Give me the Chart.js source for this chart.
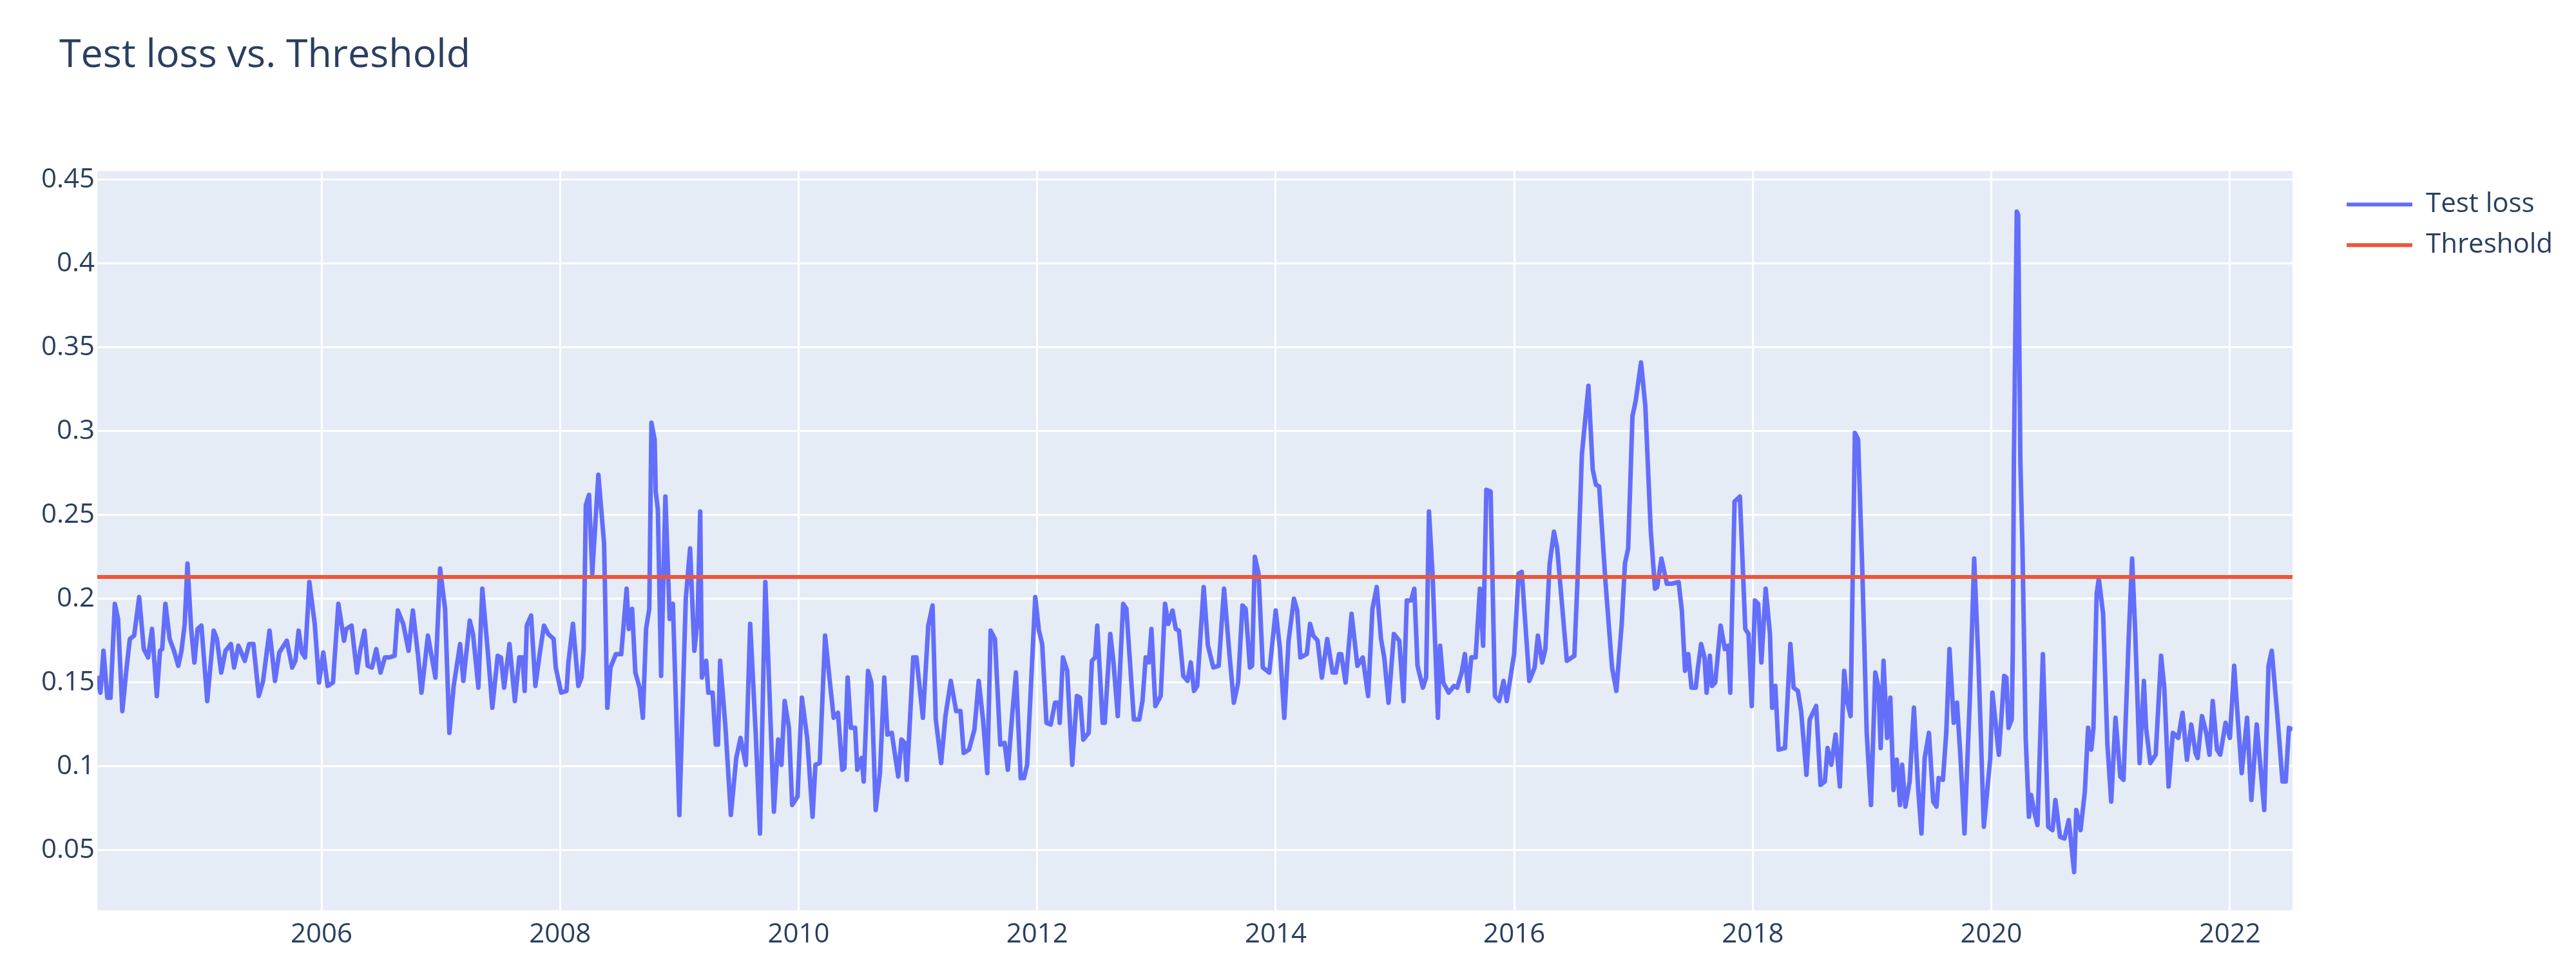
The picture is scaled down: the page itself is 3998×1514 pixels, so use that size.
<!DOCTYPE html>
<html>
<head>
<meta charset="utf-8">
<title>Test loss vs. Threshold</title>
<script src="https://cdn.jsdelivr.net/npm/chart.js@4.4.1/dist/chart.umd.min.js"></script>
<style>
  html, body { margin: 0; padding: 0; background: #ffffff; }
  #lossChart { display: block; }
</style>
</head>
<body>
<canvas id="lossChart" width="3998" height="1514"></canvas>
<script>
// decimal years of each test window
const years = [
  2004.120, 2004.146, 2004.172, 2004.204, 2004.231, 2004.267, 2004.294, 2004.330, 2004.366, 2004.393,
  2004.429, 2004.471, 2004.510, 2004.546, 2004.579, 2004.619, 2004.646, 2004.664, 2004.691, 2004.727,
  2004.763, 2004.799, 2004.826, 2004.853, 2004.876, 2004.907, 2004.934, 2004.961, 2004.993, 2005.042,
  2005.096, 2005.123, 2005.159, 2005.195, 2005.240, 2005.267, 2005.303, 2005.357, 2005.393, 2005.429,
  2005.474, 2005.510, 2005.564, 2005.610, 2005.646, 2005.709, 2005.754, 2005.781, 2005.808, 2005.835,
  2005.862, 2005.898, 2005.943, 2005.979, 2006.015, 2006.051, 2006.096, 2006.141,
  2006.189, 2006.207, 2006.252, 2006.297, 2006.324, 2006.360, 2006.387, 2006.423, 2006.459, 2006.495,
  2006.531, 2006.567, 2006.613, 2006.640, 2006.685, 2006.730, 2006.766, 2006.811, 2006.838, 2006.892,
  2006.955, 2006.994, 2007.036, 2007.072, 2007.108, 2007.162, 2007.189, 2007.243, 2007.270, 2007.315,
  2007.348, 2007.396, 2007.432, 2007.477, 2007.504, 2007.531, 2007.576, 2007.621, 2007.658, 2007.685,
  2007.703, 2007.721, 2007.757, 2007.793, 2007.829, 2007.865, 2007.901, 2007.946, 2007.964, 2008.009,
  2008.054, 2008.070, 2008.108,
  2008.153, 2008.180, 2008.198, 2008.216, 2008.243, 2008.270, 2008.321, 2008.369, 2008.396, 2008.423,
  2008.468, 2008.513, 2008.558, 2008.576, 2008.604, 2008.631, 2008.667, 2008.694, 2008.721, 2008.748,
  2008.766, 2008.793, 2008.802, 2008.820, 2008.847, 2008.883, 2008.919, 2008.946, 2009.000, 2009.054,
  2009.090, 2009.126, 2009.153, 2009.175, 2009.189, 2009.225, 2009.243, 2009.279, 2009.306, 2009.324,
  2009.342, 2009.387, 2009.432, 2009.477, 2009.513, 2009.558, 2009.594, 2009.640, 2009.676, 2009.721,
  2009.793, 2009.829, 2009.856, 2009.883, 2009.919, 2009.946, 2009.991, 2010.027, 2010.072, 2010.117,
  2010.141, 2010.177, 2010.222, 2010.267, 2010.294, 2010.330, 2010.366, 2010.384, 2010.411, 2010.438,
  2010.474, 2010.492, 2010.528, 2010.546, 2010.582, 2010.610, 2010.646, 2010.682, 2010.718, 2010.745,
  2010.781, 2010.835, 2010.862, 2010.889, 2010.907, 2010.961, 2010.988, 2011.042, 2011.087, 2011.123,
  2011.150, 2011.195, 2011.231, 2011.276, 2011.321, 2011.357, 2011.384, 2011.429, 2011.474, 2011.510,
  2011.546, 2011.582, 2011.610, 2011.646, 2011.691, 2011.727, 2011.754, 2011.790, 2011.822, 2011.862,
  2011.889, 2011.916, 2011.984, 2012.015, 2012.042, 2012.078, 2012.114, 2012.150,
  2012.180, 2012.189, 2012.216, 2012.252, 2012.294, 2012.333, 2012.360, 2012.387, 2012.432, 2012.459,
  2012.486, 2012.504, 2012.549, 2012.567, 2012.613, 2012.640, 2012.676, 2012.721, 2012.748, 2012.811,
  2012.856, 2012.883, 2012.910, 2012.937, 2012.958, 2012.991, 2013.036, 2013.072, 2013.099, 2013.135,
  2013.162, 2013.189, 2013.225, 2013.261, 2013.288, 2013.315, 2013.342, 2013.396, 2013.432, 2013.477,
  2013.522, 2013.567, 2013.612, 2013.649, 2013.685, 2013.721, 2013.748, 2013.784, 2013.802, 2013.825,
  2013.856, 2013.892, 2013.946, 2014.000, 2014.036, 2014.072, 2014.108, 2014.153,
  2014.180, 2014.207, 2014.261, 2014.288, 2014.315, 2014.351, 2014.387, 2014.432, 2014.477, 2014.504,
  2014.531, 2014.549, 2014.586, 2014.636, 2014.685, 2014.730, 2014.775, 2014.811, 2014.847, 2014.883,
  2014.910, 2014.946, 2014.991, 2015.036, 2015.072, 2015.099, 2015.135, 2015.162, 2015.189, 2015.234,
  2015.261, 2015.285, 2015.315, 2015.360, 2015.378, 2015.405, 2015.450, 2015.495, 2015.522, 2015.559,
  2015.586, 2015.613, 2015.640, 2015.676, 2015.712, 2015.739, 2015.766, 2015.802, 2015.838, 2015.874,
  2015.910, 2015.937, 2015.999, 2016.036, 2016.063, 2016.126,
  2016.171, 2016.198, 2016.234, 2016.261, 2016.297, 2016.333, 2016.360, 2016.441, 2016.504, 2016.531,
  2016.567, 2016.622, 2016.658, 2016.685, 2016.712, 2016.766, 2016.820, 2016.856, 2016.901, 2016.928,
  2016.955, 2016.991, 2017.018, 2017.063, 2017.099, 2017.144, 2017.180, 2017.198, 2017.234, 2017.279,
  2017.324, 2017.378, 2017.405, 2017.432, 2017.459, 2017.486, 2017.522, 2017.540, 2017.567, 2017.595,
  2017.613, 2017.640, 2017.658, 2017.685, 2017.730, 2017.766, 2017.793, 2017.811, 2017.847, 2017.892,
  2017.937, 2017.964, 2017.991, 2018.018, 2018.045, 2018.072, 2018.108,
  2018.144, 2018.162, 2018.189, 2018.216, 2018.270, 2018.315, 2018.342, 2018.378, 2018.405, 2018.450,
  2018.477, 2018.531, 2018.568, 2018.604, 2018.627, 2018.658, 2018.694, 2018.730, 2018.766, 2018.793,
  2018.820, 2018.856, 2018.883, 2018.919, 2018.955, 2018.991, 2019.027, 2019.054, 2019.072, 2019.096,
  2019.126, 2019.153, 2019.180, 2019.207, 2019.234, 2019.252, 2019.279, 2019.315, 2019.351, 2019.387,
  2019.414, 2019.441, 2019.477, 2019.513, 2019.540, 2019.558, 2019.594, 2019.622, 2019.649, 2019.685,
  2019.712, 2019.739, 2019.775, 2019.820, 2019.856, 2019.892, 2019.937, 2019.991, 2020.009, 2020.063,
  2020.108, 2020.126, 2020.144, 2020.171, 2020.180, 2020.189, 2020.213, 2020.225, 2020.243, 2020.261,
  2020.288, 2020.315, 2020.333, 2020.360, 2020.387, 2020.432, 2020.477, 2020.513, 2020.537, 2020.576,
  2020.613, 2020.649, 2020.694, 2020.712, 2020.748, 2020.784, 2020.811, 2020.838, 2020.856, 2020.883,
  2020.901, 2020.937, 2020.973, 2021.005, 2021.041, 2021.081, 2021.108, 2021.153, 2021.180, 2021.207,
  2021.243, 2021.279, 2021.297, 2021.333, 2021.378, 2021.423, 2021.450, 2021.486, 2021.522, 2021.567,
  2021.603, 2021.640, 2021.676, 2021.712, 2021.730, 2021.766, 2021.802, 2021.829, 2021.856, 2021.892,
  2021.919, 2021.964, 2022.000, 2022.036, 2022.063, 2022.099, 2022.144, 2022.180, 2022.225, 2022.288,
  2022.324, 2022.351, 2022.396, 2022.441, 2022.468, 2022.495, 2022.525
];

const testLoss = [
  0.154, 0.144, 0.169, 0.141, 0.141, 0.197, 0.188, 0.133, 0.159, 0.176,
  0.178, 0.201, 0.170, 0.165, 0.182, 0.142, 0.169, 0.170, 0.197, 0.176,
  0.169, 0.160, 0.169, 0.185, 0.221, 0.182, 0.162, 0.182, 0.184, 0.139,
  0.181, 0.176, 0.156, 0.169, 0.173, 0.159, 0.172, 0.163, 0.173, 0.173,
  0.142, 0.151, 0.181, 0.151, 0.168, 0.175, 0.159, 0.163, 0.181, 0.168,
  0.165, 0.210, 0.185, 0.150, 0.168, 0.148, 0.150, 0.197,
  0.175, 0.182, 0.184, 0.156, 0.169, 0.181, 0.160, 0.159, 0.170, 0.156,
  0.165, 0.165, 0.166, 0.193, 0.185, 0.169, 0.193, 0.165, 0.144, 0.178,
  0.153, 0.218, 0.194, 0.120, 0.148, 0.173, 0.151, 0.187, 0.179, 0.147,
  0.206, 0.167, 0.135, 0.166, 0.165, 0.147, 0.173, 0.139, 0.165, 0.165,
  0.145, 0.184, 0.190, 0.148, 0.167, 0.184, 0.179, 0.176, 0.159, 0.144,
  0.145, 0.162, 0.185,
  0.148, 0.153, 0.170, 0.256, 0.262, 0.215, 0.274, 0.233, 0.135, 0.159,
  0.167, 0.167, 0.206, 0.182, 0.194, 0.156, 0.147, 0.129, 0.182, 0.194,
  0.305, 0.295, 0.264, 0.253, 0.154, 0.261, 0.188, 0.197, 0.071, 0.200,
  0.230, 0.169, 0.188, 0.252, 0.153, 0.163, 0.144, 0.144, 0.113, 0.113,
  0.163, 0.123, 0.071, 0.105, 0.117, 0.101, 0.185, 0.120, 0.060, 0.210,
  0.073, 0.116, 0.101, 0.139, 0.123, 0.077, 0.082, 0.141, 0.117, 0.070,
  0.101, 0.102, 0.178, 0.147, 0.129, 0.132, 0.098, 0.099, 0.153, 0.123,
  0.123, 0.098, 0.105, 0.091, 0.157, 0.150, 0.074, 0.096, 0.153, 0.119,
  0.120, 0.094, 0.116, 0.114, 0.092, 0.165, 0.165, 0.129, 0.184, 0.196,
  0.128, 0.102, 0.130, 0.151, 0.133, 0.133, 0.108, 0.110, 0.122, 0.151,
  0.128, 0.096, 0.181, 0.176, 0.113, 0.114, 0.098, 0.130, 0.156, 0.093,
  0.093, 0.101, 0.201, 0.181, 0.173, 0.126, 0.125, 0.138,
  0.138, 0.126, 0.165, 0.157, 0.101, 0.142, 0.141, 0.116, 0.120, 0.163,
  0.165, 0.184, 0.126, 0.126, 0.179, 0.162, 0.130, 0.197, 0.194, 0.128,
  0.128, 0.139, 0.165, 0.162, 0.182, 0.136, 0.142, 0.197, 0.185, 0.193,
  0.182, 0.181, 0.154, 0.151, 0.162, 0.145, 0.148, 0.207, 0.172, 0.159,
  0.160, 0.206, 0.167, 0.138, 0.150, 0.196, 0.194, 0.159, 0.160, 0.225,
  0.215, 0.159, 0.156, 0.193, 0.170, 0.129, 0.175, 0.200,
  0.193, 0.165, 0.167, 0.185, 0.178, 0.175, 0.153, 0.176, 0.156, 0.156,
  0.167, 0.167, 0.150, 0.191, 0.160, 0.165, 0.142, 0.194, 0.207, 0.176,
  0.165, 0.138, 0.179, 0.175, 0.139, 0.199, 0.199, 0.206, 0.160, 0.147,
  0.153, 0.252, 0.215, 0.129, 0.172, 0.150, 0.144, 0.148, 0.147, 0.156,
  0.167, 0.145, 0.165, 0.165, 0.206, 0.172, 0.265, 0.264, 0.142, 0.139,
  0.151, 0.139, 0.167, 0.215, 0.216, 0.151,
  0.159, 0.178, 0.162, 0.170, 0.221, 0.240, 0.230, 0.163, 0.166, 0.212,
  0.286, 0.327, 0.277, 0.268, 0.267, 0.209, 0.159, 0.145, 0.185, 0.221,
  0.230, 0.309, 0.318, 0.341, 0.315, 0.241, 0.206, 0.207, 0.224, 0.209,
  0.209, 0.210, 0.193, 0.157, 0.167, 0.147, 0.147, 0.159, 0.173, 0.165,
  0.144, 0.166, 0.148, 0.150, 0.184, 0.170, 0.172, 0.144, 0.258, 0.261,
  0.182, 0.179, 0.136, 0.199, 0.197, 0.162, 0.206,
  0.179, 0.135, 0.148, 0.110, 0.111, 0.173, 0.147, 0.145, 0.133, 0.095,
  0.128, 0.136, 0.089, 0.091, 0.111, 0.101, 0.119, 0.088, 0.157, 0.138,
  0.130, 0.299, 0.295, 0.215, 0.120, 0.077, 0.156, 0.147, 0.111, 0.163,
  0.117, 0.141, 0.086, 0.104, 0.077, 0.101, 0.076, 0.091, 0.135, 0.086,
  0.060, 0.105, 0.120, 0.079, 0.076, 0.093, 0.092, 0.120, 0.170, 0.126,
  0.138, 0.108, 0.060, 0.141, 0.224, 0.162, 0.064, 0.105, 0.144, 0.107,
  0.154, 0.153, 0.123, 0.128, 0.170, 0.283, 0.431, 0.429, 0.283, 0.230,
  0.117, 0.070, 0.083, 0.073, 0.065, 0.167, 0.064, 0.062, 0.080, 0.058,
  0.057, 0.068, 0.037, 0.074, 0.062, 0.085, 0.123, 0.110, 0.123, 0.203,
  0.212, 0.191, 0.113, 0.079, 0.129, 0.094, 0.092, 0.179, 0.224, 0.179,
  0.102, 0.151, 0.123, 0.102, 0.107, 0.166, 0.147, 0.088, 0.120, 0.117,
  0.132, 0.104, 0.125, 0.108, 0.105, 0.130, 0.120, 0.107, 0.139, 0.110,
  0.107, 0.126, 0.117, 0.160, 0.132, 0.096, 0.129, 0.080, 0.125, 0.074,
  0.160, 0.169, 0.132, 0.091, 0.091, 0.123, 0.122
];

const thresholdValue = 0.213;

const xTicks = [2006, 2008, 2010, 2012, 2014, 2016, 2018, 2020, 2022];
const yTicks = [0.05, 0.1, 0.15, 0.2, 0.25, 0.3, 0.35, 0.4, 0.45];
const yRange = [0.0142, 0.4552];

if (years.length !== testLoss.length) {
    console.error('years/testLoss length mismatch', years.length, testLoss.length);
}

const textColor = '#2a3f5f';
Chart.defaults.font.family = '"Open Sans", verdana, arial, sans-serif';
Chart.defaults.color = textColor;

// plotly-like grey-blue plot area, plus nudging the title/legend blocks
const plotBackground = {
    id: 'plotBackground',
    afterLayout(chart) {
        if (chart.titleBlock) {
            chart.titleBlock.left = chart.chartArea.left - 59;
        }
        if (chart.legend) {
            chart.legend.top += 10;
            chart.legend.bottom += 10;
        }
    },
    beforeDraw(chart) {
        const { ctx, chartArea } = chart;
        ctx.save();
        ctx.fillStyle = '#E5ECF6';
        ctx.fillRect(chartArea.left, chartArea.top, chartArea.right - chartArea.left, chartArea.bottom - chartArea.top);
        ctx.restore();
    }
};

const lossPoints = years.map((yr, i) => ({ x: yr, y: testLoss[i] }));
const thresholdPoints = years.map(yr => ({ x: yr, y: thresholdValue }));

const ctx = document.getElementById('lossChart').getContext('2d');
new Chart(ctx, {
    type: 'line',
    data: {
        datasets: [{
            label: 'Test loss',
            data: lossPoints,
            borderColor: '#636efa',
            backgroundColor: '#636efa',
            borderWidth: 7,
            pointRadius: 0,
            tension: 0,
            borderJoinStyle: 'round',
            order: 1
        }, {
            label: 'Threshold',
            data: thresholdPoints,
            borderColor: '#EF553B',
            backgroundColor: '#EF553B',
            borderWidth: 6,
            pointRadius: 0,
            tension: 0,
            order: 0
        }]
    },
    options: {
        responsive: false,
        animation: false,
        devicePixelRatio: 1,
        layout: {
            padding: { left: 40, right: 26, top: 0, bottom: 0 }
        },
        plugins: {
            title: {
                display: true,
                text: 'Test loss vs. Threshold',
                align: 'start',
                color: textColor,
                font: { size: 61, weight: 'normal' },
                padding: { top: 50, bottom: 142 }
            },
            legend: {
                position: 'right',
                align: 'start',
                fullSize: false,
                labels: {
                    boxWidth: 102,
                    boxHeight: 6,
                    padding: 21,
                    color: textColor,
                    font: { size: 42 },
                    sort: (a, b) => a.datasetIndex - b.datasetIndex,
                    generateLabels: chart =>
                        Chart.defaults.plugins.legend.labels.generateLabels(chart)
                            .map(item => Object.assign(item, { lineWidth: 0, fillStyle: item.strokeStyle }))
                }
            },
            tooltip: { enabled: false }
        },
        scales: {
            x: {
                type: 'linear',
                min: years[0],
                max: years[years.length - 1],
                afterBuildTicks: scale => { scale.ticks = xTicks.map(v => ({ value: v })); },
                afterFit: scale => { scale.height = 102; },
                ticks: {
                    autoSkip: false,
                    maxRotation: 0,
                    padding: 13,
                    color: textColor,
                    font: { size: 42 },
                    callback: v => String(v)
                },
                grid: { color: '#ffffff', lineWidth: 3, drawTicks: false },
                border: { display: false }
            },
            y: {
                type: 'linear',
                min: yRange[0],
                max: yRange[1],
                afterBuildTicks: scale => { scale.ticks = yTicks.map(v => ({ value: v })); },
                afterFit: scale => { scale.width = 111; },
                ticks: {
                    padding: 4,
                    color: textColor,
                    font: { size: 42 },
                    callback: v => String(Number(v.toFixed(2)))
                },
                grid: { color: '#ffffff', lineWidth: 3, drawTicks: false },
                border: { display: false }
            },
            // empty spacer between plot and legend
            gap: {
                type: 'linear',
                position: 'right',
                afterFit: scale => { scale.width = 63; },
                ticks: { display: false },
                grid: { display: false },
                border: { display: false }
            }
        }
    },
    plugins: [plotBackground]
});
</script>
</body>
</html>
